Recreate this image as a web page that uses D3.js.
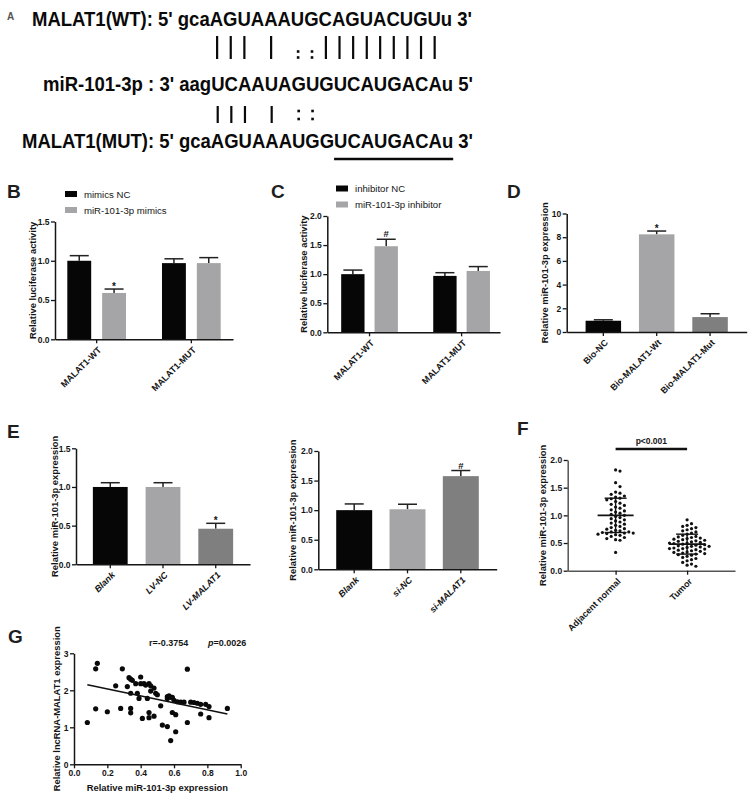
<!DOCTYPE html>
<html>
<head>
<meta charset="utf-8">
<script src="https://cdn.jsdelivr.net/npm/d3@7"></script>
<style>
  body { margin: 0; background: #fff; }
  svg { display: block; font-family: "Liberation Sans", Arial, sans-serif; }
</style>
</head>
<body>
<svg id="fig" width="753" height="798"></svg>
<script>
// ---- panel A: sequences ----
const seqWT  = "MALAT1(WT): 5' gcaAGUAAAUGCAGUACUGUu 3'";
const seqMiR = "miR-101-3p : 3' aagUCAAUAGUGUCAUGACAu 5'";
const seqMUT = "MALAT1(MUT): 5' gcaAGUAAAUGGUCAUGACAu 3'";
const pairWT  = "||| | ::|||||||||";
const pairMUT = "||| | ::";
const mutSite = "UCAUGACAu";

// ---- panel B ----
const bGroups = ["MALAT1-WT", "MALAT1-MUT"];
const bSeries = ["mimics NC", "miR-101-3p mimics"];
const bValues = [[1.00, 0.59], [0.97, 0.97]];
const bErrors = [[0.065, 0.05], [0.055, 0.07]];
const bMarks  = [["", "*"], ["", ""]];
const bTicks  = [0, 0.5, 1.0, 1.5];

// ---- panel C ----
const cGroups = ["MALAT1-WT", "MALAT1-MUT"];
const cSeries = ["inhibitor NC", "miR-101-3p inhibitor"];
const cValues = [[1.00, 1.48], [0.97, 1.055]];
const cErrors = [[0.07, 0.12], [0.055, 0.075]];
const cMarks  = [["", "#"], ["", ""]];
const cTicks  = [0, 0.5, 1.0, 1.5, 2.0];

// ---- panel D ----
const dCats   = ["Bio-NC", "Bio-MALAT1-Wt", "Bio-MALAT1-Mut"];
const dValues = [0.95, 8.24, 1.26];
const dErrors = [0.08, 0.28, 0.28];
const dMarks  = ["", "*", ""];
const dTicks  = [0, 2, 4, 6, 8, 10];

// ---- panel E ----
const eLvCats   = ["Blank", "LV-NC", "LV-MALAT1"];
const eLvValues = [1.00, 1.00, 0.46];
const eLvErrors = [0.055, 0.055, 0.07];
const eLvMarks  = ["", "", "*"];
const eLvTicks  = [0, 0.5, 1.0, 1.5];

const eSiCats   = ["Blank", "si-NC", "si-MALAT1"];
const eSiValues = [1.00, 1.015, 1.575];
const eSiErrors = [0.105, 0.085, 0.095];
const eSiMarks  = ["", "", "#"];
const eSiTicks  = [0, 0.5, 1.0, 1.5, 2.0];

// ---- panel F ----
const fCats = ["Adjacent normal", "Tumor"];
const fAdjacent = [1.82, 1.80, 1.59, 1.52, 1.42, 1.40, 1.38, 1.35, 1.33, 1.31, 1.30, 1.28,
  1.25, 1.22, 1.20, 1.18, 1.15, 1.13, 1.10, 1.08, 1.06, 1.04, 1.02, 1.00, 0.98, 0.96, 0.94,
  0.92, 0.90, 0.88, 0.86, 0.84, 0.82, 0.80, 0.78, 0.76, 0.75, 0.73, 0.72, 0.70, 0.70, 0.69,
  0.68, 0.68, 0.67, 0.66, 0.65, 0.64, 0.62, 0.60, 0.58, 0.56, 0.55, 0.33];
const fTumor = [0.92, 0.85, 0.82, 0.80, 0.78, 0.76, 0.74, 0.72, 0.70, 0.68, 0.66, 0.64, 0.62,
  0.61, 0.60, 0.59, 0.58, 0.57, 0.56, 0.55, 0.54, 0.53, 0.52, 0.51, 0.50, 0.50, 0.49, 0.48,
  0.47, 0.46, 0.45, 0.44, 0.44, 0.43, 0.42, 0.41, 0.40, 0.40, 0.39, 0.38, 0.37, 0.36, 0.35,
  0.34, 0.33, 0.32, 0.31, 0.30, 0.29, 0.28, 0.26, 0.24, 0.22, 0.20, 0.18, 0.15, 0.12, 0.10, 0.08];
const fMean  = [1.00, 0.48];
const fSD    = [0.31, 0.18];
const fTicks = [0, 0.5, 1.0, 1.5, 2.0];

// ---- panel G ----
const gX = [0.08, 0.13, 0.14, 0.13, 0.20, 0.25, 0.28, 0.29, 0.32, 0.33, 0.34, 0.35, 0.34, 0.34,
  0.34, 0.37, 0.40, 0.40, 0.39, 0.38, 0.41, 0.42, 0.43, 0.44, 0.45, 0.45, 0.45, 0.46, 0.46,
  0.48, 0.48, 0.49, 0.50, 0.52, 0.53, 0.56, 0.56, 0.56, 0.57, 0.58, 0.59, 0.58, 0.59, 0.61,
  0.61, 0.60, 0.62, 0.64, 0.66, 0.68, 0.68, 0.70, 0.72, 0.74, 0.76, 0.76, 0.79, 0.81, 0.81, 0.92];
const gY = [1.13, 2.58, 2.73, 1.50, 1.42, 2.12, 1.51, 2.58, 2.10, 2.34, 2.30, 2.27, 1.92, 1.51,
  1.39, 2.18, 2.36, 2.18, 1.78, 1.92, 1.24, 2.18, 2.14, 1.78, 2.18, 1.40, 1.26, 2.12, 1.98,
  2.06, 1.30, 1.92, 1.88, 1.58, 1.06, 1.83, 1.78, 1.02, 1.85, 1.81, 1.81, 0.64, 1.40, 1.34,
  0.88, 1.73, 1.69, 1.68, 1.68, 2.57, 1.13, 1.68, 1.67, 1.65, 1.62, 1.36, 1.62, 1.56, 1.26, 1.51];
const gFitX = [0.08, 0.92];
const gFitY = [2.15, 1.36];
const gXTicks = [0, 0.2, 0.4, 0.6, 0.8, 1.0];
const gYTicks = [0, 1, 2, 3];

// ---------------------------------------------------------------
const svg = d3.select('#fig');
const FONT = '"Liberation Sans", Arial, sans-serif';
const INK = '#151515';
const BLACK = '#060606', LIGHT = '#a5a5a7', DARK = '#7f7f7f';

function styleAxis(ax, size = 8.5) {
  ax.select('.domain').attr('stroke', INK).attr('stroke-width', 1.5);
  ax.selectAll('.tick line').attr('stroke', INK).attr('stroke-width', 1.3);
  ax.selectAll('.tick text')
    .attr('fill', INK)
    .style('font-family', FONT)
    .style('font-weight', 'bold')
    .style('font-size', size + 'px');
}

function panelLetter(t, x, y, size = 19, color = '#1e1e1e') {
  svg.append('text')
    .attr('x', x).attr('y', y)
    .attr('fill', color)
    .style('font-weight', 'bold')
    .style('font-size', size + 'px')
    .text(t);
}

function yTitle(t, x, y) {
  svg.append('text')
    .attr('transform', `translate(${x},${y}) rotate(-90)`)
    .attr('text-anchor', 'middle')
    .attr('dy', '0.35em')
    .attr('fill', INK)
    .style('font-weight', 'bold')
    .style('font-size', '9.4px')
    .text(t);
}

function rotateLabels(ax, y0, italic) {
  ax.selectAll('.tick text')
    .attr('x', null).attr('y', null)
    .attr('dy', '0.35em')
    .attr('text-anchor', 'end')
    .attr('transform', 'translate(3,9) rotate(-45)')
    .style('font-size', '9px')
    .style('font-style', italic ? 'italic' : 'normal');
}

function barPanel(p) {
  const g = svg.append('g');
  const y = d3.scaleLinear().domain([0, p.yMax]).range([p.y0, p.yTop]);
  const x = d3.scaleBand().domain(p.cats).range([p.x0, p.x1])
    .paddingInner(p.pi).paddingOuter(p.po).align(p.align);
  const nS = p.values[0].length;
  const sub = d3.scaleBand().domain(d3.range(nS)).range([0, x.bandwidth()]).paddingInner(p.subPad || 0);

  const bars = [];
  p.cats.forEach((c, i) => {
    p.values[i].forEach((v, s) => {
      bars.push({
        x: x(c) + sub(s), w: sub.bandwidth(), v,
        e: p.errors[i][s], m: p.marks[i][s], color: p.color(i, s)
      });
    });
  });

  // error bars first, bars on top
  const eb = g.selectAll('.err').data(bars).enter().append('g');
  eb.append('line')
    .attr('x1', d => d.x + d.w / 2).attr('x2', d => d.x + d.w / 2)
    .attr('y1', d => y(d.v)).attr('y2', d => y(d.v + d.e))
    .attr('stroke', '#222').attr('stroke-width', 1.5);
  eb.append('line')
    .attr('x1', d => d.x + d.w / 2 - 9.5).attr('x2', d => d.x + d.w / 2 + 9.5)
    .attr('y1', d => y(d.v + d.e)).attr('y2', d => y(d.v + d.e))
    .attr('stroke', '#222').attr('stroke-width', 1.5);

  g.selectAll('.bar').data(bars).enter().append('rect')
    .attr('x', d => d.x).attr('width', d => d.w)
    .attr('y', d => y(d.v)).attr('height', d => y(0) - y(d.v))
    .attr('fill', d => d.color);

  g.selectAll('.mark').data(bars.filter(d => d.m)).enter().append('text')
    .attr('x', d => d.x + d.w / 2)
    .attr('y', d => y(d.v + d.e) + (d.m === '*' ? 1 : -2))
    .attr('text-anchor', 'middle')
    .attr('fill', INK)
    .style('font-weight', 'bold')
    .style('font-size', d => d.m === '*' ? '10px' : '9.5px')
    .text(d => d.m);

  const ya = g.append('g').attr('transform', `translate(${p.x0},0)`)
    .call(d3.axisLeft(y).tickValues(p.ticks).tickFormat(p.fmt).tickSize(4).tickSizeOuter(0).tickPadding(1.5));
  styleAxis(ya);

  const xa = g.append('g').attr('transform', `translate(0,${p.y0})`)
    .call(d3.axisBottom(x).tickSize(4).tickSizeOuter(0));
  styleAxis(xa);
  rotateLabels(xa, p.y0, p.italic);

  yTitle(p.title, p.x0 - p.titleOff, (p.y0 + p.yTop) / 2);

  if (p.legend) {
    const lg = g.append('g');
    p.legend.forEach((name, s) => {
      lg.append('rect')
        .attr('x', p.legX).attr('y', p.legY + s * 16 - 6)
        .attr('width', 12).attr('height', 6)
        .attr('fill', p.color(0, s));
      lg.append('text')
        .attr('x', p.legX + 19).attr('y', p.legY + s * 16 + 0.5)
        .attr('fill', INK)
        .style('font-size', '9.6px')
        .text(name);
    });
  }
}

// ---------------- panel A ----------------
panelLetter('A', 7, 20, 10, '#555');
const seqLines = [
  { t: seqWT,  x: 32, y: 26,  len: 440, key: 'gca' },
  { t: seqMiR, x: 43, y: 91,  len: 430, key: 'aag' },
  { t: seqMUT, x: 22, y: 148, len: 451, key: 'gca' }
];
const seqNodes = seqLines.map(l => svg.append('text')
  .attr('x', l.x).attr('y', l.y)
  .attr('textLength', l.len).attr('lengthAdjust', 'spacingAndGlyphs')
  .attr('fill', '#0a0a0a')
  .style('font-weight', 'bold').style('font-size', '20px')
  .text(l.t).node());

function centers(i, n) {
  const l = seqLines[i];
  const start = l.t.indexOf(l.key) + 3;
  return d3.range(n).map(k => {
    const b = seqNodes[i].getExtentOfChar(start + k);
    return b.x + b.width / 2;
  });
}

function pairRow(pattern, cA, cB, y1, y2, dots) {
  const items = pattern.split('').map((ch, k) => ({ ch, x: (cA[k] + cB[k]) / 2 }));
  svg.selectAll(null).data(items.filter(d => d.ch === '|')).enter().append('line')
    .attr('x1', d => d.x).attr('x2', d => d.x)
    .attr('y1', y1).attr('y2', y2)
    .attr('stroke', '#0a0a0a').attr('stroke-width', 2.2);
  items.filter(d => d.ch === ':').forEach(d => {
    dots.forEach(dy => svg.append('rect')
      .attr('x', d.x - 1.3).attr('y', dy - 1.3)
      .attr('width', 2.6).attr('height', 2.6).attr('fill', '#0a0a0a'));
  });
}
const cWT = centers(0, pairWT.length), cMiR = centers(1, pairWT.length), cMUT = centers(2, pairWT.length);
pairRow(pairWT, cWT, cMiR, 36, 59, [51.5, 57.5]);
pairRow(pairMUT, cMiR, cMUT, 106, 123, [111, 119]);

{
  const si = seqMUT.indexOf(mutSite);
  const a = seqNodes[2].getExtentOfChar(si);
  const b = seqNodes[2].getExtentOfChar(si + mutSite.length - 1);
  svg.append('line')
    .attr('x1', a.x).attr('x2', b.x + b.width)
    .attr('y1', 159).attr('y2', 159)
    .attr('stroke', '#0a0a0a').attr('stroke-width', 2.6);
}

// ---------------- panel B ----------------
panelLetter('B', 7, 198);
barPanel({
  cats: bGroups, values: bValues, errors: bErrors, marks: bMarks,
  color: (i, s) => [BLACK, LIGHT][s],
  x0: 55, x1: 233, y0: 339.3, yTop: 221.5, yMax: 1.5, ticks: bTicks, fmt: d3.format('.1f'),
  pi: 0.38, po: 0.13, align: 0.5, subPad: 0.314,
  title: 'Relative luciferase activity', titleOff: 22,
  legend: bSeries, legX: 65, legY: 197
});

// ---------------- panel C ----------------
panelLetter('C', 271, 198);
barPanel({
  cats: cGroups, values: cValues, errors: cErrors, marks: cMarks,
  color: (i, s) => [BLACK, LIGHT][s],
  x0: 327.3, x1: 500, y0: 332.3, yTop: 216, yMax: 2.0, ticks: cTicks, fmt: d3.format('.1f'),
  pi: 0.384, po: 0.13, align: 0.58, subPad: 0.3,
  title: 'Relative luciferase activity', titleOff: 24,
  legend: cSeries, legX: 336, legY: 191.5
});

// ---------------- panel D ----------------
panelLetter('D', 507, 198);
barPanel({
  cats: dCats, values: dValues.map(v => [v]), errors: dErrors.map(v => [v]), marks: dMarks.map(v => [v]),
  color: (i) => [BLACK, LIGHT, DARK][i],
  x0: 566.7, x1: 746.7, y0: 332, yTop: 213.5, yMax: 10, ticks: dTicks, fmt: d3.format('d'),
  pi: 0.335, po: 0.354, align: 0.5,
  title: 'Relative miR-101-3p expression', titleOff: 22
});

// ---------------- panel E ----------------
panelLetter('E', 7, 438);
barPanel({
  cats: eLvCats, values: eLvValues.map(v => [v]), errors: eLvErrors.map(v => [v]), marks: eLvMarks.map(v => [v]),
  color: (i) => [BLACK, LIGHT, DARK][i],
  x0: 76, x1: 250, y0: 564.3, yTop: 448.3, yMax: 1.5, ticks: eLvTicks, fmt: d3.format('.1f'),
  pi: 0.34, po: 0.32, align: 0.5, italic: true,
  title: 'Relative miR-101-3p expression', titleOff: 21
});
barPanel({
  cats: eSiCats, values: eSiValues.map(v => [v]), errors: eSiErrors.map(v => [v]), marks: eSiMarks.map(v => [v]),
  color: (i) => [BLACK, LIGHT, DARK][i],
  x0: 318.3, x1: 496.7, y0: 569.3, yTop: 451, yMax: 2.0, ticks: eSiTicks, fmt: d3.format('.1f'),
  pi: 0.325, po: 0.336, align: 0.5, italic: true,
  title: 'Relative miR-101-3p expression', titleOff: 26
});

// ---------------- panel F ----------------
panelLetter('F', 517, 435);
{
  const x0 = 567.7, x1 = 735, y0 = 570.7, yTop = 460;
  const g = svg.append('g');
  const y = d3.scaleLinear().domain([0, 2]).range([y0, yTop]);
  const x = d3.scalePoint().domain(fCats).range([x0, x1]).padding(0.67);
  const r = 1.6, gap = 2 * r + 1.2;

  function swarm(vals) {
    const placed = [];
    return vals.slice().sort(d3.descending).map(v => {
      const py = y(v);
      let off = 0;
      for (let k = 0; k < 40; k++) {
        const cand = k === 0 ? 0 : (k % 2 ? 1 : -1) * Math.ceil(k / 2) * gap;
        if (placed.every(q => Math.hypot(q.x - cand, q.y - py) >= gap)) { off = cand; break; }
      }
      placed.push({ x: off, y: py });
      return { dx: off, y: py };
    });
  }

  [fAdjacent, fTumor].forEach((vals, i) => {
    const cx = x(fCats[i]);
    g.selectAll(null).data(swarm(vals)).enter().append('circle')
      .attr('cx', d => cx + d.dx).attr('cy', d => d.y).attr('r', r)
      .attr('fill', '#111');
    const m = fMean[i], s = fSD[i];
    g.append('line').attr('x1', cx - 18).attr('x2', cx + 18).attr('y1', y(m)).attr('y2', y(m))
      .attr('stroke', '#111').attr('stroke-width', 1.6);
    g.append('line').attr('x1', cx).attr('x2', cx).attr('y1', y(m - s)).attr('y2', y(m + s))
      .attr('stroke', '#111').attr('stroke-width', 1.4);
    [m - s, m + s].forEach(v => g.append('line')
      .attr('x1', cx - 11).attr('x2', cx + 11).attr('y1', y(v)).attr('y2', y(v))
      .attr('stroke', '#111').attr('stroke-width', 1.4));
  });

  const ya = g.append('g').attr('transform', `translate(${x0},0)`)
    .call(d3.axisLeft(y).tickValues(fTicks).tickFormat(d3.format('.1f')).tickSize(4).tickSizeOuter(0).tickPadding(1.5));
  styleAxis(ya);
  const xa = g.append('g').attr('transform', `translate(0,${y0})`)
    .call(d3.axisBottom(x).tickSize(4).tickSizeOuter(0));
  styleAxis(xa);
  xa.select('.domain').attr('stroke', '#555');
  ya.select('.domain').attr('stroke', '#555');
  rotateLabels(xa, y0, false);

  g.append('line')
    .attr('x1', x(fCats[0])).attr('x2', x(fCats[1]))
    .attr('y1', 449).attr('y2', 449)
    .attr('stroke', '#111').attr('stroke-width', 2.4);
  g.append('text')
    .attr('x', (x(fCats[0]) + x(fCats[1])) / 2).attr('y', 444)
    .attr('text-anchor', 'middle').attr('fill', INK)
    .style('font-weight', 'bold').style('font-size', '8.5px')
    .text('p<0.001');

  yTitle('Relative miR-101-3p expression', x0 - 25, (y0 + yTop) / 2);
}

// ---------------- panel G ----------------
panelLetter('G', 8, 643);
{
  const x0 = 74, x1 = 240.7, y0 = 764.3, yTop = 653.3;
  const g = svg.append('g');
  const x = d3.scaleLinear().domain([0, 1]).range([x0, x1]);
  const y = d3.scaleLinear().domain([0, 3]).range([y0, yTop]);

  g.selectAll(null).data(gX.map((v, i) => [v, gY[i]])).enter().append('circle')
    .attr('cx', d => x(d[0])).attr('cy', d => y(d[1])).attr('r', 2.6)
    .attr('fill', '#0a0a0a');

  g.append('path')
    .datum(gFitX.map((v, i) => [v, gFitY[i]]))
    .attr('d', d3.line().x(d => x(d[0])).y(d => y(d[1])))
    .attr('stroke', '#111').attr('stroke-width', 1.4).attr('fill', 'none');

  const ya = g.append('g').attr('transform', `translate(${x0},0)`)
    .call(d3.axisLeft(y).tickValues(gYTicks).tickFormat(d3.format('d')).tickSize(4).tickSizeOuter(0).tickPadding(1.5));
  styleAxis(ya);
  const xa = g.append('g').attr('transform', `translate(0,${y0})`)
    .call(d3.axisBottom(x).tickValues(gXTicks).tickFormat(d3.format('.1f')).tickSize(4).tickSizeOuter(0).tickPadding(2));
  styleAxis(xa);

  yTitle('Relative lncRNA-MALAT1 expression', x0 - 17, (y0 + yTop) / 2);
  g.append('text')
    .attr('x', (x0 + x1) / 2).attr('y', 791)
    .attr('text-anchor', 'middle').attr('fill', INK)
    .style('font-weight', 'bold').style('font-size', '9.4px')
    .text('Relative miR-101-3p expression');

  g.append('text')
    .attr('x', 149).attr('y', 646).attr('fill', INK)
    .style('font-weight', 'bold').style('font-size', '9px')
    .text('r=-0.3754');
  const pt = g.append('text')
    .attr('x', 208).attr('y', 646).attr('fill', INK)
    .style('font-weight', 'bold').style('font-size', '9px');
  pt.append('tspan').style('font-style', 'italic').text('p');
  pt.append('tspan').text('=0.0026');
}
</script>
</body>
</html>
